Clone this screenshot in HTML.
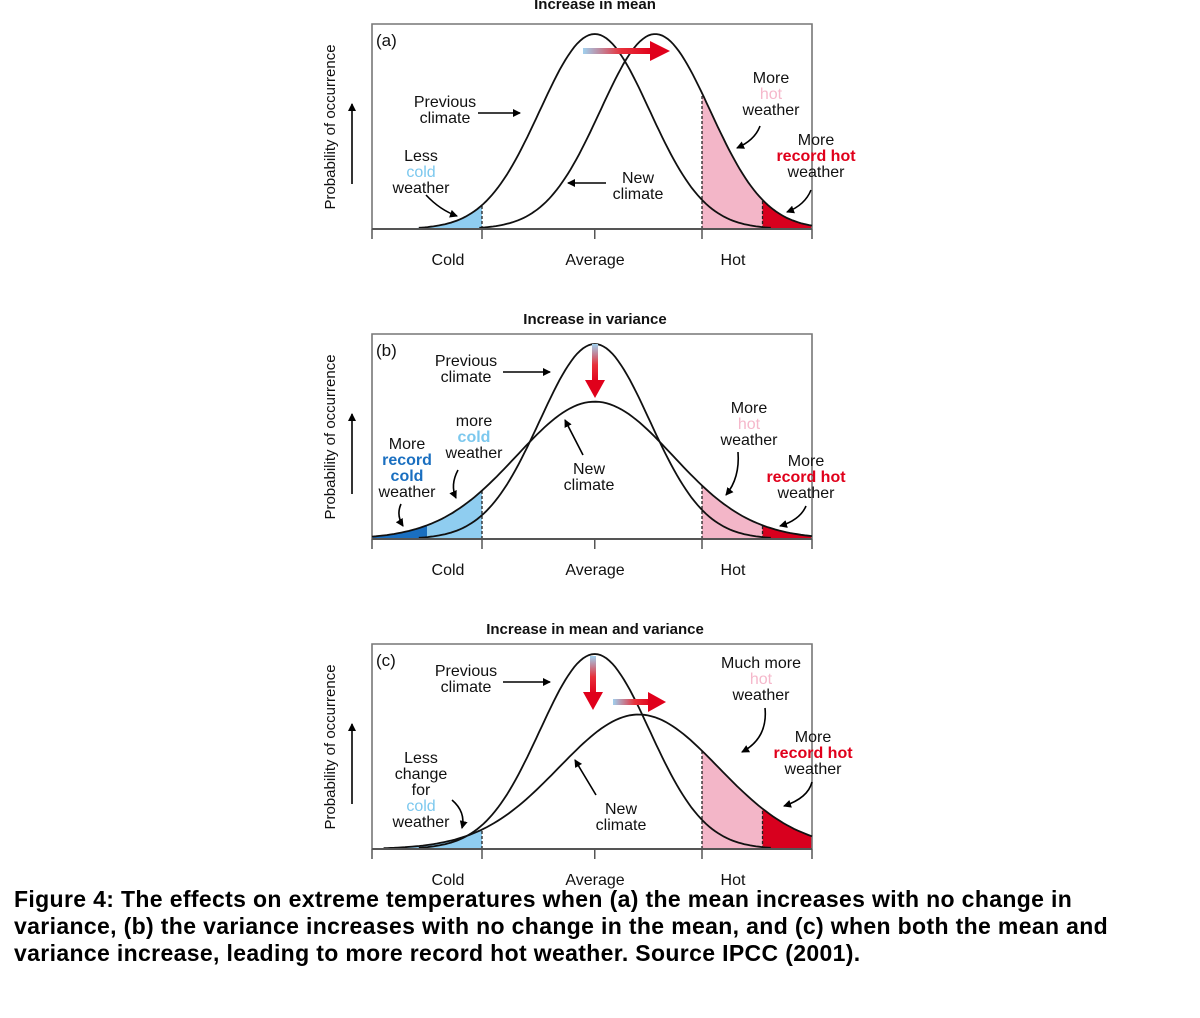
<!DOCTYPE html>
<html><head><meta charset="utf-8">
<style>
html,body{margin:0;padding:0;background:#fff;}
body{width:1200px;height:1018px;overflow:hidden;position:relative;font-family:"Liberation Sans",Arial,sans-serif;}
#fig{position:absolute;left:0;top:0;}
#caption{position:absolute;left:14px;top:886px;width:1180px;font-weight:bold;font-size:23px;letter-spacing:0.35px;line-height:27px;color:#000;white-space:nowrap;}
</style></head>
<body>
<svg id="fig" width="1200" height="1018" xmlns="http://www.w3.org/2000/svg" font-family="Liberation Sans, Arial, sans-serif">
<defs>
<linearGradient id="gh" x1="0" x2="1" y1="0" y2="0"><stop offset="0" stop-color="#9fd0ee"/><stop offset="0.55" stop-color="#e8303a"/><stop offset="1" stop-color="#e0001b"/></linearGradient>
<linearGradient id="gv" x1="0" x2="0" y1="0" y2="1"><stop offset="0" stop-color="#9fd0ee"/><stop offset="0.55" stop-color="#e8303a"/><stop offset="1" stop-color="#e0001b"/></linearGradient>
<marker id="ah" markerWidth="8" markerHeight="8" refX="7" refY="4" orient="auto" markerUnits="userSpaceOnUse"><path d="M0,0 L8,4 L0,8 Z" fill="#000"/></marker>
</defs>
<g id="panels"></g>
</svg>
<div id="caption">Figure 4: The effects on extreme temperatures when (a) the mean increases with no change in<br>variance, (b) the variance increases with no change in the mean, and (c) when both the mean and<br>variance increase, leading to more record hot weather. Source IPCC (2001).</div>
<script>
// Data: temperature axis in units where Average=0, one unit = 1 sigma of previous climate
const tickLabels = ["Cold","Average","Hot"];
const tickValues = [-2.05, 0, 1.95];
const thresholds = [-2.05, 1.95, 3.05]; // cold, hot, record hot
const recordCold = -3.05;
const panelTitles = ["Increase in mean","Increase in variance","Increase in mean and variance"];
const panelLetters = ["(a)","(b)","(c)"];
const prevMean = [0, 0, 0];
const prevSigma = [1, 1, 1];
const newMean = [1.1, 0, 0.8];
const newSigma = [1, 1.42, 1.45];
const xMin = -4.05, xMax = 3.95;

const NS="http://www.w3.org/2000/svg";
const root=document.getElementById('panels');
const X0=372,X1=812,PEAK=195;
function xs(v){return X0+(v-xMin)/(xMax-xMin)*(X1-X0);}
function dens(x,m,s){return Math.exp(-0.5*((x-m)/s)**2)/s;}
function mk(tag,attrs,parent){const e=document.createElementNS(NS,tag);for(const k in attrs)e.setAttribute(k,attrs[k]);(parent||root).appendChild(e);return e;}
function txt(lines,cx,y0,parent,anchor){
  lines.forEach((l,i)=>{const t=mk('text',{x:cx,y:y0+i*16,'text-anchor':anchor||'middle','font-size':16,fill:l[1]||'#111','font-weight':l[2]?'bold':'normal'},parent);t.textContent=l[0];
  
  });
}
function arrow(d,parent){const p=mk('path',{d:d,fill:'none',stroke:'#000','stroke-width':1.6,'marker-end':'url(#ah)'},parent);
  
  }

const offs=[0,310,620];
const LB='#8fcdf0',DB='#1a6fc0',PK='#f3b6c8',RD='#d8001e';
for(let p=0;p<3;p++){
  const oy=offs[p], base=229+oy, top=24+oy;
  const g=mk('g',{});
  
  
  const ys=v=>base-v*PEAK;
  const pm=prevMean[p],ps=prevSigma[p],nm=newMean[p],ns=newSigma[p];
  const curve=(m,s,a,b)=>{let pts=[];for(let i=0;i<=120;i++){const x=a+(b-a)*i/120;pts.push([xs(x),ys(dens(x,m,s))]);}return pts;};
  const area=(m,s,a,b,col,nm2)=>{const pts=curve(m,s,a,b);let d='M'+xs(a)+','+base+' '+pts.map(q=>'L'+q[0].toFixed(1)+','+q[1].toFixed(1)).join(' ')+' L'+xs(b)+','+base+'Z';const e=mk('path',{d:d,fill:col},g);
    
    };
  if(p===0){area(pm,ps,xMin,thresholds[0],LB,'less-cold-area');}
  else if(p===1){area(nm,ns,xMin,recordCold,DB,'record-cold-area');area(nm,ns,recordCold,thresholds[0],LB,'more-cold-area');}
  else {area(nm,ns,xMin,thresholds[0],LB,'cold-area');}
  area(nm,ns,thresholds[1],thresholds[2],PK,'hot-area');
  area(nm,ns,thresholds[2],xMax,RD,'record-hot-area');
  const box=mk('path',{d:`M${X0},${base} L${X0},${top} L${X1},${top} L${X1},${base}`,fill:'none',stroke:'#777','stroke-width':1.6},g);
  
  [thresholds[0],thresholds[1],thresholds[2]].forEach(v=>{
    const hy=(v===thresholds[0]&&p===0)?ys(dens(v,pm,ps)):ys(dens(v,nm,ns));
    const l=mk('line',{x1:xs(v),x2:xs(v),y1:base,y2:hy,stroke:'#222','stroke-width':1.3,'stroke-dasharray':'3,2'},g);
    });
  const drawC=(m,s,name)=>{const pts=curve(m,s,Math.max(xMin,m-3.2*s),Math.min(xMax,m+3.2*s));const e=mk('path',{d:'M'+pts.map(q=>q[0].toFixed(1)+','+q[1].toFixed(1)).join(' L'),fill:'none',stroke:'#111','stroke-width':1.8},g);
    };
  drawC(pm,ps,'previous-climate-curve');drawC(nm,ns,'new-climate-curve');
  const ax=mk('line',{x1:X0,x2:X1,y1:base,y2:base,stroke:'#555','stroke-width':2},g);
  
  [xMin,tickValues[0],tickValues[1],tickValues[2],xMax].forEach(v=>{const t=mk('line',{x1:xs(v),x2:xs(v),y1:base,y2:base+10,stroke:'#555','stroke-width':1.5},g);
    });
  const lx=[448,595,733];
  tickLabels.forEach((s,i)=>{const t=mk('text',{x:lx[i],y:base+36,'text-anchor':'middle','font-size':16,fill:'#111'},g);t.textContent=s;
    });
  const tt=mk('text',{x:595,y:top-10+(p===0?-5:0),'text-anchor':'middle','font-size':15,'font-weight':'bold',fill:'#111'},g);tt.textContent=panelTitles[p];
  
  const lt=mk('text',{x:376,y:top+22,'font-size':17,fill:'#111'},g);lt.textContent=panelLetters[p];
  
  const yl=mk('text',{x:0,y:0,'font-size':15,fill:'#111','text-anchor':'middle',transform:`translate(335,${top+103}) rotate(-90)`},g);yl.textContent='Probability of occurrence';
  
  arrow(`M352,${top+160} L352,${top+80}`,g);
}
const G=root;
// (a)
txt([["Previous"],["climate"]],445,107,G);arrow('M478,113 L520,113');
txt([["Less"],["cold","#7cc8ee"],["weather"]],421,161,G);arrow('M426,195 Q440,210 457,216');
txt([["New"],["climate"]],638,183,G);arrow('M606,183 L568,183');
txt([["More"],["hot","#f5b8cb"],["weather"]],771,83,G);arrow('M760,126 Q755,140 737,148');
txt([["More"],["record hot","#e0001b",1],["weather"]],816,145,G);arrow('M811,190 Q805,205 787,212');
mk('rect',{x:583,y:48,width:70,height:6,fill:'url(#gh)'});mk('path',{d:'M650,41 L670,51 L650,61 Z',fill:'#e0001b'});
// (b)
txt([["Previous"],["climate"]],466,366,G);arrow('M503,372 L550,372');
txt([["more"],["cold","#7cc8ee",1],["weather"]],474,426,G);arrow('M458,470 Q450,485 456,498');
txt([["More"],["record","#1a6fc0",1],["cold","#1a6fc0",1],["weather"]],407,449,G);arrow('M401,504 Q396,515 403,526');
txt([["New"],["climate"]],589,474,G);arrow('M583,455 L565,420');
txt([["More"],["hot","#f5b8cb"],["weather"]],749,413,G);arrow('M738,452 Q740,478 726,495');
txt([["More"],["record hot","#e0001b",1],["weather"]],806,466,G);arrow('M806,506 Q800,520 780,526');
mk('rect',{x:592,y:344,width:6,height:38,fill:'url(#gv)'});mk('path',{d:'M585,380 L605,380 L595,398 Z',fill:'#e0001b'});
// (c)
txt([["Previous"],["climate"]],466,676,G);arrow('M503,682 L550,682');
txt([["Less"],["change"],["for"],["cold","#7cc8ee"],["weather"]],421,763,G);arrow('M452,800 Q466,812 462,828');
txt([["New"],["climate"]],621,814,G);arrow('M596,795 L575,760');
txt([["Much more"],["hot","#f5b8cb"],["weather"]],761,668,G);arrow('M765,708 Q768,738 742,752');
txt([["More"],["record hot","#e0001b",1],["weather"]],813,742,G);arrow('M812,782 Q808,798 784,806');
mk('rect',{x:590,y:656,width:6,height:38,fill:'url(#gv)'});mk('path',{d:'M583,692 L603,692 L593,710 Z',fill:'#e0001b'});
mk('rect',{x:613,y:699,width:40,height:6,fill:'url(#gh)'});mk('path',{d:'M648,692 L666,702 L648,712 Z',fill:'#e0001b'});
</script>
</body></html>
